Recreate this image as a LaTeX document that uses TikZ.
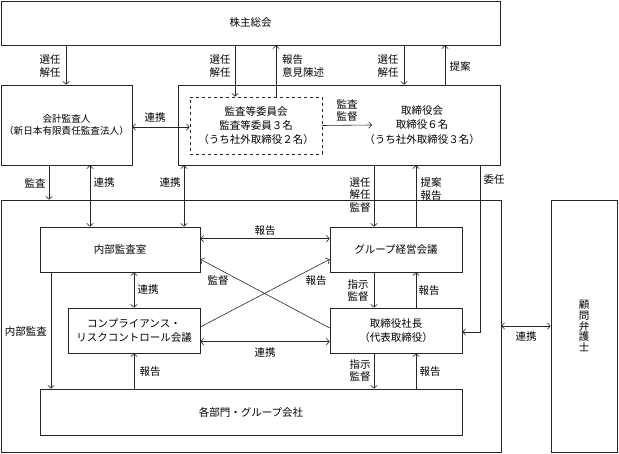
\documentclass[tikz,border=0pt]{standalone}
\usepackage{fontspec}
\newfontfamily\jp{Noto Sans CJK JP}
\usetikzlibrary{arrows.meta}
\begin{document}
\begin{tikzpicture}[x=1pt,y=-1pt,
  every node/.style={font=\jp\fontsize{10.5}{12.5}\selectfont, inner sep=0pt, align=center},
  box/.style={draw=black!85, line width=0.6pt},
  wide/.style={font=\jp\fontsize{10.5}{14.2}\selectfont},
  ln/.style={line width=0.6pt, draw=black!85},
  arr/.style={ln, -{Straight Barb[length=3pt,width=6.5pt]}},
  darr/.style={ln, {Straight Barb[length=3pt,width=6.5pt]}-{Straight Barb[length=3pt,width=6.5pt]}}]
\useasboundingbox (0,0) rectangle (619,454);

% boxes
\node[box, minimum width=499pt, minimum height=44pt] (kabu) at (250.5,23) {株主総会};
\node[box, minimum width=131pt, minimum height=80pt, font=\jp\fontsize{9.6}{12}\selectfont] (kaikei) at (66.5,125) {会計監査人\\（新日本有限責任監査法人）};
\node[box, minimum width=322pt, minimum height=80pt] (tori) at (339,125) {};
\node[box, dashed, minimum width=132pt, minimum height=57pt, wide] (kansa) at (256,125.5) {監査等委員会\\監査等委員３名\\（うち社外取締役２名）};
\node[wide] (toritext) at (422,125) {取締役会\\取締役６名\\（うち社外取締役３名）};
\node[box, minimum width=500pt, minimum height=252pt] (outer) at (251,326) {};
\node[box, minimum width=160pt, minimum height=45pt] (naibu) at (120,249.5) {内部監査室};
\node[box, minimum width=132pt, minimum height=45pt] (group) at (396,249.5) {グループ経営会議};
\node[box, minimum width=132pt, minimum height=45pt, wide] (comp) at (134,330.5) {コンプライアンス・\\リスクコントロール会議};
\node[box, minimum width=132pt, minimum height=45pt, wide] (shacho) at (396,330.5) {取締役社長\\（代表取締役）};
\node[box, minimum width=422pt, minimum height=46pt] (kakubu) at (251,412) {各部門・グループ会社};
\node[box, minimum width=66pt, minimum height=252pt, font=\jp\fontsize{10.5}{10.8}\selectfont] (komon) at (584,326) {顧\\問\\弁\\護\\士};

% x positions
\coordinate (x49) at (49,0);
\coordinate (x51) at (51,0);
\coordinate (x66) at (66,0);
\coordinate (x90) at (90,0);
\coordinate (x134) at (134,0);
\coordinate (x184) at (184,0);
\coordinate (x235) at (235,0);
\coordinate (x276) at (276,0);
\coordinate (x374) at (374,0);
\coordinate (x404) at (404,0);
\coordinate (x416) at (416,0);
\coordinate (x445) at (445,0);
\coordinate (x480) at (480,0);
\coordinate (kend) at (372,125);

% connectors top
\draw[arr] (kabu.south -| x66) -- (kaikei.north -| x66);
\draw[arr] (kabu.south -| x235) -- (kansa.north -| x235);
\draw[arr] (kansa.north -| x276) -- (kabu.south -| x276);
\draw[arr] (kabu.south -| x404) -- (tori.north -| x404);
\draw[arr] (tori.north -| x445) -- (kabu.south -| x445);
\draw[darr] ([yshift=-2pt]kaikei.east) -- ([yshift=-1.5pt]kansa.west);
\draw[arr] (kansa.east) -- (kend);

% middle
\draw[arr] (kaikei.south -| x49) -- (outer.north -| x49);
\draw[darr] (kaikei.south -| x90) -- (naibu.north -| x90);
\draw[darr] (tori.south -| x184) -- (naibu.north -| x184);
\draw[arr] (tori.south -| x374) -- (group.north -| x374);
\draw[arr] (group.north -| x416) -- (tori.south -| x416);
\draw[arr] (tori.south -| x480) |- ([yshift=-1.5pt]shacho.east);

% inner
\draw[darr] ([yshift=-12pt]naibu.north east) -- ([yshift=-12pt]group.north west);
\draw[arr] ([yshift=2.5pt]shacho.west) -- ([yshift=13pt]naibu.south east);
\draw[arr] ([yshift=3.5pt]comp.east) -- ([yshift=13pt]group.south west);
\draw[darr] (naibu.south -| x134) -- (comp.north -| x134);
\draw[darr] ([yshift=-34pt]comp.north east) -- ([yshift=-34pt]shacho.north west);
\draw[arr] (group.south -| x374) -- (shacho.north -| x374);
\draw[arr] (shacho.north -| x416) -- (group.south -| x416);
\draw[arr] (naibu.south -| x51) -- (kakubu.north -| x51);
\draw[arr] (kakubu.north -| x134) -- (comp.south -| x134);
\draw[arr] (shacho.south -| x374) -- (kakubu.north -| x374);
\draw[arr] (kakubu.north -| x416) -- (shacho.south -| x416);
\draw[darr] (outer.east) -- (komon.west);

% labels
\node (l1) at (50,66) {選任\\解任};
\node (l2) at (220,66) {選任\\解任};
\node[anchor=west, align=left] (l3) at (282,66) {報告\\意見陳述};
\node (l4) at (388,66) {選任\\解任};
\node (l5) at (460,67) {提案};
\node (l6) at (155,118) {連携};
\node (l7) at (347,110.5) {監査\\監督};
\node (l8) at (35,183) {監査};
\node (l9) at (104,183) {連携};
\node (l10) at (170,183) {連携};
\node (l11) at (360,195) {選任\\解任\\監督};
\node (l12) at (431,189) {提案\\報告};
\node (l13) at (494,180) {委任};
\node (l14) at (265,231) {報告};
\node (l15) at (218,281) {監督};
\node (l16) at (316,281) {報告};
\node (l17) at (148,290) {連携};
\node (l18) at (265,353) {連携};
\node (l19) at (358,290.5) {指示\\監督};
\node (l20) at (429,291) {報告};
\node (l21) at (26,332) {内部監査};
\node (l22) at (150,372) {報告};
\node (l23) at (360,370.5) {指示\\監督};
\node (l24) at (430,372) {報告};
\node (l25) at (526,337) {連携};
\end{tikzpicture}
\end{document}
